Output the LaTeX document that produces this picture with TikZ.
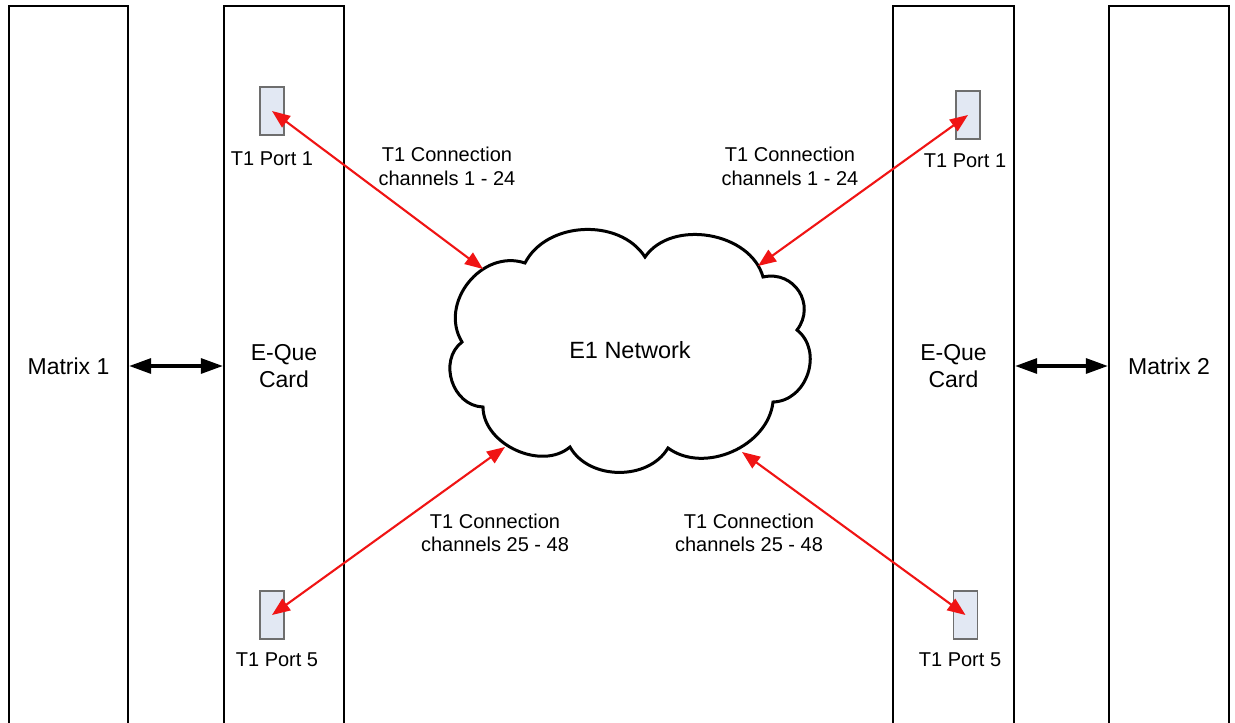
\documentclass[tikz,border=0pt]{standalone}
\usepackage{fontspec}
\setmainfont{Liberation Sans}
\usetikzlibrary{arrows.meta}
\definecolor{portfill}{RGB}{226,232,243}
\definecolor{portdraw}{RGB}{110,110,110}
\definecolor{linkred}{RGB}{240,20,20}
\begin{document}
\begin{tikzpicture}[x=1pt,y=-1pt,
  box/.style={draw=black, line width=2.3pt, minimum width=120pt, minimum height=720pt, inner sep=0pt, align=center, font=\fontsize{23}{27.5}\selectfont},
  port/.style={draw=portdraw, fill=portfill, line width=1.2pt, minimum width=24pt, minimum height=48pt, inner sep=0pt},
  lbl/.style={font=\fontsize{20}{23.5}\selectfont, align=center, inner sep=0pt},
  link/.style={draw=linkred, line width=2.1pt, {Triangle[length=18pt,width=14pt]}-{Triangle[length=18pt,width=14pt]}},
  bus/.style={draw=black, line width=3.2pt, {Triangle[length=22pt,width=15pt]}-{Triangle[length=22pt,width=15pt]}},
  cloudline/.style={draw=black, line width=3pt, fill=white}
]
\useasboundingbox (0,0) rectangle (1235,723);
\clip (0,0) rectangle (1235,723);
\fill[white] (0,0) rectangle (1235,723);

% big boxes
\node[box, minimum width=119pt] (m1) at (68.5,366) {Matrix 1};
\node[box] (eq1) at (284,366) {E-Que\\Card};
\node[box, minimum width=121pt] (eq2) at (953.5,366) {E-Que\\Card};
\node[box] (m2) at (1169,366) {Matrix 2};

% ports
\node[port] (p1l) at (272,111) {};
\node[port] (p5l) at (272,615) {};
\node[port] (p1r) at (968,115) {};
\node[port] (p5r) at (965.5,615) {};

\node[lbl] (p1ltxt) at (272,159) {T1 Port 1};
\node[lbl] (p5ltxt) at (277,660) {T1 Port 5};
\node[lbl] (p1rtxt) at (965,161) {T1 Port 1};
\node[lbl] (p5rtxt) at (960,660) {T1 Port 5};

% cloud
\coordinate (A) at (525,263);
\coordinate (B) at (645,257);
\coordinate (C) at (763,277);
\coordinate (D) at (797,330);
\coordinate (E) at (773,402);
\coordinate (F) at (668,448);
\coordinate (G) at (570,447);
\coordinate (H) at (483,407);
\coordinate (I) at (462,342);
\draw[cloudline] (A) to[bend left=60] (B) to[bend left=65] (C)
  to[bend left=70, looseness=1.3] (D) to[bend left=70, looseness=1.15] (E)
  to[bend left=60] (F) to[bend left=60] (G) to[bend left=65] (H)
  to[bend left=70, looseness=1.15] (I) to[bend left=70, looseness=1.15] (A) -- cycle;
\node[font=\fontsize{23.5}{28}\selectfont, inner sep=0pt] (net) at (630,350) {E1 Network};

\coordinate (c1) at (483,269);
\coordinate (c2) at (758,266);
\coordinate (c3) at (505,447);
\coordinate (c4) at (742,452);

% connection labels
\node[lbl] (t1) at (447,166.5) {T1 Connection\\channels 1 - 24};
\node[lbl] (t2) at (790,166.5) {T1 Connection\\channels 1 - 24};
\node[lbl] (t3) at (495,533) {T1 Connection\\channels 25 - 48};
\node[lbl] (t4) at (749,533) {T1 Connection\\channels 25 - 48};

% red links
\draw[link] (p1l.center) -- (c1);
\draw[link] (p1r.center) -- (c2);
\draw[link] (p5l.center) -- (c3);
\draw[link] (p5r.center) -- (c4);

% black buses
\draw[bus] (m1) -- (eq1);
\draw[bus] (eq2) -- (m2);
\end{tikzpicture}
\end{document}
